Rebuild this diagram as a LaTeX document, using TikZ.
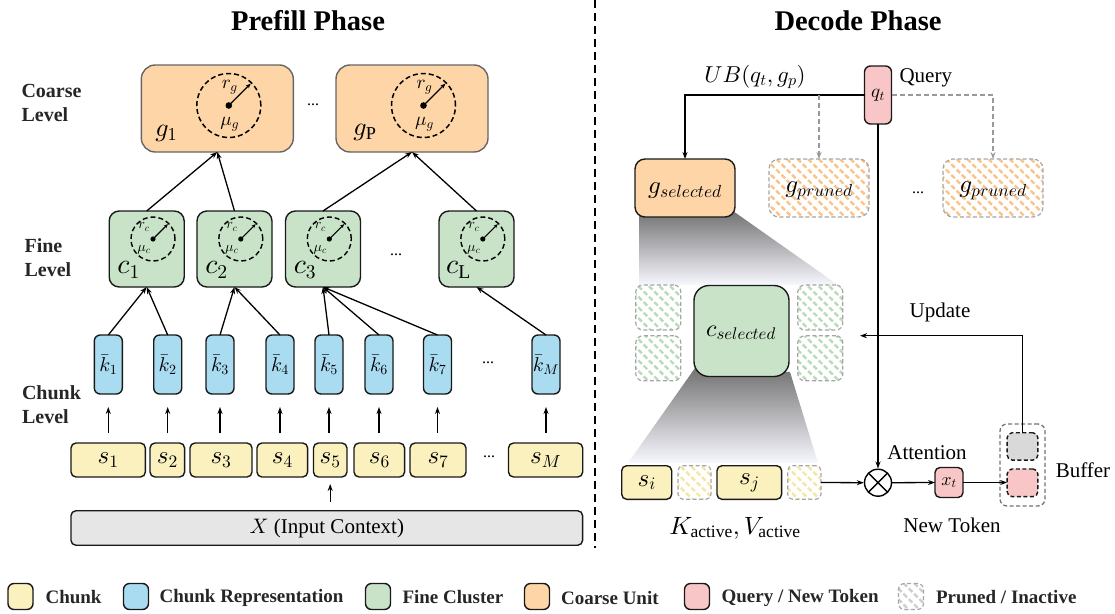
\documentclass[tikz,border=0pt]{standalone}
\usepackage{fontspec}
\setmainfont{Liberation Serif}
\DeclareFontShape{OML}{cmm}{m}{it}{<->cmmi10}{}
\DeclareFontShape{OMS}{cmsy}{m}{n}{<->cmsy10}{}
\DeclareFontShape{OT1}{cmr}{m}{n}{<->cmr10}{}
\usetikzlibrary{patterns.meta,arrows.meta}
\definecolor{cY}{HTML}{FAF1BF}
\definecolor{cB}{HTML}{AADCF1}
\definecolor{cG}{HTML}{C9E3C9}
\definecolor{cO}{HTML}{FDD5A6}
\definecolor{cP}{HTML}{F8C6C6}
\definecolor{cX}{HTML}{E6E6E6}
\definecolor{hO}{HTML}{F9C48C}
\definecolor{hG}{HTML}{B9DBB9}
\definecolor{hY}{HTML}{F4E7A6}
\definecolor{hK}{HTML}{CFCFCF}
\newcommand\fsz[2]{\fontsize{#1}{#2}\selectfont}
\tikzset{
 bx/.style={draw=black!90, line width=1.4pt, inner sep=0pt, outer sep=0pt},
 coarse/.style={bx, draw=black!60, fill=cO, rounded corners=14pt, minimum width=152pt, minimum height=87pt},
 fine/.style={bx, fill=cG, rounded corners=10pt, minimum width=75pt, minimum height=76pt},
 kb/.style={bx, fill=cB, rounded corners=6pt, minimum width=28pt, minimum height=59pt, font=\fsz{20}{22}},
 sb/.style={bx, fill=cY, rounded corners=5pt, minimum height=34pt, font=\fsz{25}{27}},
 prn/.style={draw=black!35, dash pattern=on 4pt off 2.5pt, line width=1.2pt, inner sep=0pt, outer sep=0pt, preaction={fill=white}, pattern={Lines[angle=-45,distance=7.5pt,line width=2.4pt]}},
 con/.style={line width=1.3pt, -{Stealth[length=7pt,width=5pt]}},
 lvl/.style={font=\fsz{20}{24.5}\bfseries, align=left, anchor=west, text=black!85},
 txt/.style={font=\fsz{21}{24}},
 dots/.style={font=\fsz{16}{18}},
 ddash/.style={dash pattern=on 5pt off 3pt, line width=1.5pt},
 lgt/.style={font=\fsz{19}{20}\bfseries, anchor=west, text=black!85},
 lgb/.style={bx, rounded corners=6pt, minimum width=25pt, minimum height=26pt},
}
\newcommand\gdec[1]{%
 \path (#1.center) ++(11.5,-3) coordinate (#1c);
 \draw[ddash] (#1c) circle (32pt);
 \fill (#1c) circle (3.3pt);
 \draw[line width=1.2pt,-{Stealth[length=5pt,width=4pt]}] (#1c) -- ++(45:31pt);
 \node[font=\fsz{19}{20}] (#1r) at ([shift={(1,-18)}]#1c) {$r_g$};
 \node[font=\fsz{19}{20}] (#1m) at ([shift={(1,19)}]#1c) {$\mu_g$};}
\newcommand\cdec[1]{%
 \path (#1.center) ++(6.3,-10) coordinate (#1c);
 \draw[ddash, line width=1.4pt] (#1c) circle (22pt);
 \fill (#1c) circle (2.6pt);
 \draw[line width=1.1pt,-{Stealth[length=4pt,width=3.5pt]}] (#1c) -- ++(45:21pt);
 \node[font=\fsz{14}{15}] (#1r) at ([shift={(-9,-12)}]#1c) {$r_c$};
 \node[font=\fsz{14}{15}] (#1m) at ([shift={(-9,11)}]#1c) {$\mu_c$};}
\begin{document}
\begin{tikzpicture}[x=1pt,y=-1pt]
\useasboundingbox (0,0) rectangle (1115,613);
% titles and divider
\node[font=\fsz{28.5}{30}\bfseries] (tp) at (308,21) {Prefill Phase};
\node[font=\fsz{28.5}{30}\bfseries] (td) at (858,21) {Decode Phase};
\draw[line width=1.6pt, dash pattern=on 8pt off 5pt] (595,0) -- (595,548);
% level labels
\node[lvl] (lc) at (18,103) {Coarse\\Level};
\node[lvl] (lf) at (21,257.5) {Fine\\Level};
\node[lvl] (lk) at (18.5,404.5) {Chunk\\Level};
% coarse level
\node[coarse] (g1) at (217.3,108.5) {};
\node[coarse] (gP) at (412,108.5) {};
\gdec{g1}\gdec{gP}
\node[font=\fsz{26}{28}] (g1l) at ([shift={(-51,25)}]g1.center) {$g_1$};
\node[font=\fsz{26}{28}] (gPl) at ([shift={(-47,24)}]gP.center) {$g_{\mathrm{P}}$};
\node[dots] (cdots) at (313,105) {...};
% fine level
\foreach \n/\x in {c1/146.7, c2/234.5, c3/323, cL/476.5} {\node[fine] (\n) at (\x,249) {};}
\cdec{c1}\cdec{c2}\cdec{c3}\cdec{cL}
\node[font=\fsz{28}{30}] (c1l) at ([shift={(-18,21)}]c1.center) {$c_1$};
\node[font=\fsz{28}{30}] (c2l) at ([shift={(-18,21)}]c2.center) {$c_2$};
\node[font=\fsz{28}{30}] (c3l) at ([shift={(-18,21)}]c3.center) {$c_3$};
\node[font=\fsz{28}{30}] (cLl) at ([shift={(-18,21)}]cL.center) {$c_{\mathrm{L}}$};
\node[dots] (fdots) at (396,255) {...};
% chunk representations
\foreach \n/\x/\l in {1/108.3/1, 2/167.7/2, 3/220/3, 4/280/4, 5/329/5, 6/379/6, 7/437.5/7, M/546/M}
  {\node[kb] (k\n) at (\x,364.5) {$\bar{k}_{\l}$};}
\node[dots] (kdots) at (488,363) {...};
% chunks
\node[sb, minimum width=74.4pt] (s1) at (108.2,460) {$s_1$};
\node[sb, minimum width=34.6pt] (s2) at (167.3,460) {$s_2$};
\node[sb, minimum width=62pt] (s3) at (221,460) {$s_3$};
\node[sb, minimum width=50.7pt] (s4) at (282.3,460) {$s_4$};
\node[sb, minimum width=33.5pt] (s5) at (330.2,460) {$s_5$};
\node[sb, minimum width=50.6pt] (s6) at (379.3,460) {$s_6$};
\node[sb, minimum width=56pt] (s7) at (438,460) {$s_7$};
\node[sb, minimum width=74.2pt] (sM) at (545.6,460) {$s_M$};
\node[dots] (sdots) at (489,457) {...};
\node[bx, fill=cX, rounded corners=5pt, minimum width=511.7pt, minimum height=34.5pt, font=\fsz{21}{24}] (X) at (326.8,528) {$X$ (Input Context)};
% prefill connectors
\foreach \i in {1,...,7,M} {\draw[con, shorten <=10pt, shorten >=13pt] (s\i.north -| k\i.south) -- (k\i.south);}
\draw[con, shorten <=9pt, shorten >=7pt] (X.north -| s5.south) -- (s5.south);
\draw[con] (k1.north) -- (c1.south);
\draw[con] (k2.north) -- (c1.south);
\draw[con] (k3.north) -- (c2.south);
\draw[con] (k4.north) -- (c2.south);
\draw[con] (k5.north) -- (c3.south);
\draw[con] (k6.north) -- (c3.south);
\draw[con] (k7.north) -- (c3.south);
\draw[con] (kM.north) -- (cL.south);
\draw[con] (c1.north) -- (g1.south);
\draw[con] (c2.north) -- (g1.south);
\draw[con] (c3.north) -- (gP.south);
\draw[con] (cL.north) -- (gP.south);
% ===== decode phase =====
\shade[top color=black!55, bottom color=blue!3!white] (639,216) -- (733,211) -- (838,285) -- (639,285) -- cycle;
\shade[top color=black!55, bottom color=blue!3!white] (695,368) -- (790,372) -- (818,463) -- (628,463) -- cycle;
\node[bx, fill=cP, rounded corners=6pt, minimum width=27pt, minimum height=58pt, font=\fsz{19}{20}] (qt) at (878,95) {$q_t$};
\node[txt, anchor=west] (ql) at (896,78) {Query};
\node[font=\fsz{23}{24}] (ub) at (755,77) {$UB(q_t, g_p)$};
\node[bx, fill=cO, rounded corners=10pt, minimum width=100pt, minimum height=58pt] (gs) at (685,188) {};
\node[font=\fsz{25}{27}] (gsl) at (685,191) {$g_{selected}$};
\node[prn, pattern color=hO, rounded corners=10pt, minimum width=100pt, minimum height=58pt] (gp1) at (819,188) {};
\node[font=\fsz{25}{27}] (gp1l) at (819,191) {$g_{pruned}$};
\node[prn, pattern color=hO, rounded corners=10pt, minimum width=100pt, minimum height=58pt] (gp2) at (993,188) {};
\node[font=\fsz{25}{27}] (gp2l) at (993,191) {$g_{pruned}$};
\node[dots] (gdots) at (918,193) {...};
\draw[con] (qt.west) -| (gs.north);
\draw[con, draw=black!40, dash pattern=on 5pt off 3pt] (gp1.north |- qt.west) -- (gp1.north);
\draw[con, draw=black!40, dash pattern=on 5pt off 3pt] (qt.east) -| (gp2.north);
% fine clusters
\node[prn, pattern color=hG, rounded corners=7pt, minimum width=45pt, minimum height=45pt] (h1) at (658.3,307.5) {};
\node[prn, pattern color=hG, rounded corners=7pt, minimum width=45pt, minimum height=45pt] (h2) at (658.3,358.3) {};
\node[prn, pattern color=hG, rounded corners=7pt, minimum width=45pt, minimum height=45pt] (h3) at (820.3,307.5) {};
\node[prn, pattern color=hG, rounded corners=7pt, minimum width=45pt, minimum height=45pt] (h4) at (820.3,358.3) {};
\node[bx, fill=cG, rounded corners=15pt, minimum width=95pt, minimum height=91pt] (cs) at (741.5,331) {};
\node[font=\fsz{24}{26}] (csl) at (741,333) {$c_{selected}$};
% active chunks
\node[sb, minimum width=50pt, minimum height=33.6pt] (si) at (646.7,482.5) {$s_i$};
\node[prn, pattern color=hY, rounded corners=5pt, minimum width=33pt, minimum height=33.6pt] (hy1) at (694.5,482.5) {};
\node[sb, minimum width=64.7pt, minimum height=33.6pt] (sj) at (749.3,482.5) {$s_j$};
\node[prn, pattern color=hY, rounded corners=5pt, minimum width=33.3pt, minimum height=33.6pt] (hy2) at (804.3,482.5) {};
\node[font=\fsz{25}{27}] (kv) at (735,528) {$K_{\mathrm{active}}, V_{\mathrm{active}}$};
% attention
\node[circle, draw, line width=1.4pt, minimum size=27pt, inner sep=0pt,
  path picture={\draw[line width=1.4pt] (path picture bounding box.north west) -- (path picture bounding box.south east) (path picture bounding box.north east) -- (path picture bounding box.south west);}] (ot) at (878,482.7) {};
\draw[con] (hy2.east) -- (ot.west);
\draw[con] (qt.south) -- (ot.north);
\node[txt] (att) at (927,453) {Attention};
\node[bx, fill=cP, rounded corners=5pt, minimum width=28pt, minimum height=30pt, font=\fsz{18}{19}] (xt) at (949,482.5) {$x_t$};
\draw[con] (ot.east) -- (xt.west);
\node[txt] (nt) at (952,525) {New Token};
% buffer
\node[draw=black!55, dash pattern=on 4pt off 2.5pt, line width=1.3pt, rounded corners=7pt, minimum width=45pt, minimum height=82pt, inner sep=0pt] (buf) at (1022.5,465) {};
\node[bx, dash pattern=on 4pt off 2.5pt, fill=black!15, rounded corners=5pt, minimum width=30.7pt, minimum height=27.3pt] (bg) at (1022.5,446.4) {};
\node[bx, dash pattern=on 4pt off 2.5pt, fill=cP, rounded corners=5pt, minimum width=30.7pt, minimum height=27.7pt] (bp) at (1022.5,482.8) {};
\draw[con] (xt.east) -- (xt.east -| bp.west);
\node[txt] (bl) at (1083,470) {Buffer};
\coordinate (upd) at (860,335.7);
\draw[con] (bg.north) |- (upd);
\node[txt] (ul) at (940,312) {Update};
% legend
\node[lgb, fill=cY] (L1) at (20.5,596.5) {};
\node[lgt] (T1) at (42,597.5) {Chunk};
\node[lgb, fill=cB] (L2) at (136,596.5) {};
\node[lgt] (T2) at (156,597.5) {Chunk Representation};
\node[lgb, fill=cG] (L3) at (378,596.5) {};
\node[lgt] (T3) at (399,597.5) {Fine Cluster};
\node[lgb, fill=cO] (L4) at (537,596.5) {};
\node[lgt] (T4) at (557.5,597.5) {Coarse Unit};
\node[lgb, fill=cP] (L5) at (697,596.5) {};
\node[lgt] (T5) at (718,597.5) {Query / New Token};
\node[prn, pattern color=hK, rounded corners=6pt, minimum width=25pt, minimum height=26pt] (L6) at (911,596.5) {};
\node[lgt] (T6) at (932.5,597.5) {Pruned / Inactive};
\end{tikzpicture}
\end{document}
